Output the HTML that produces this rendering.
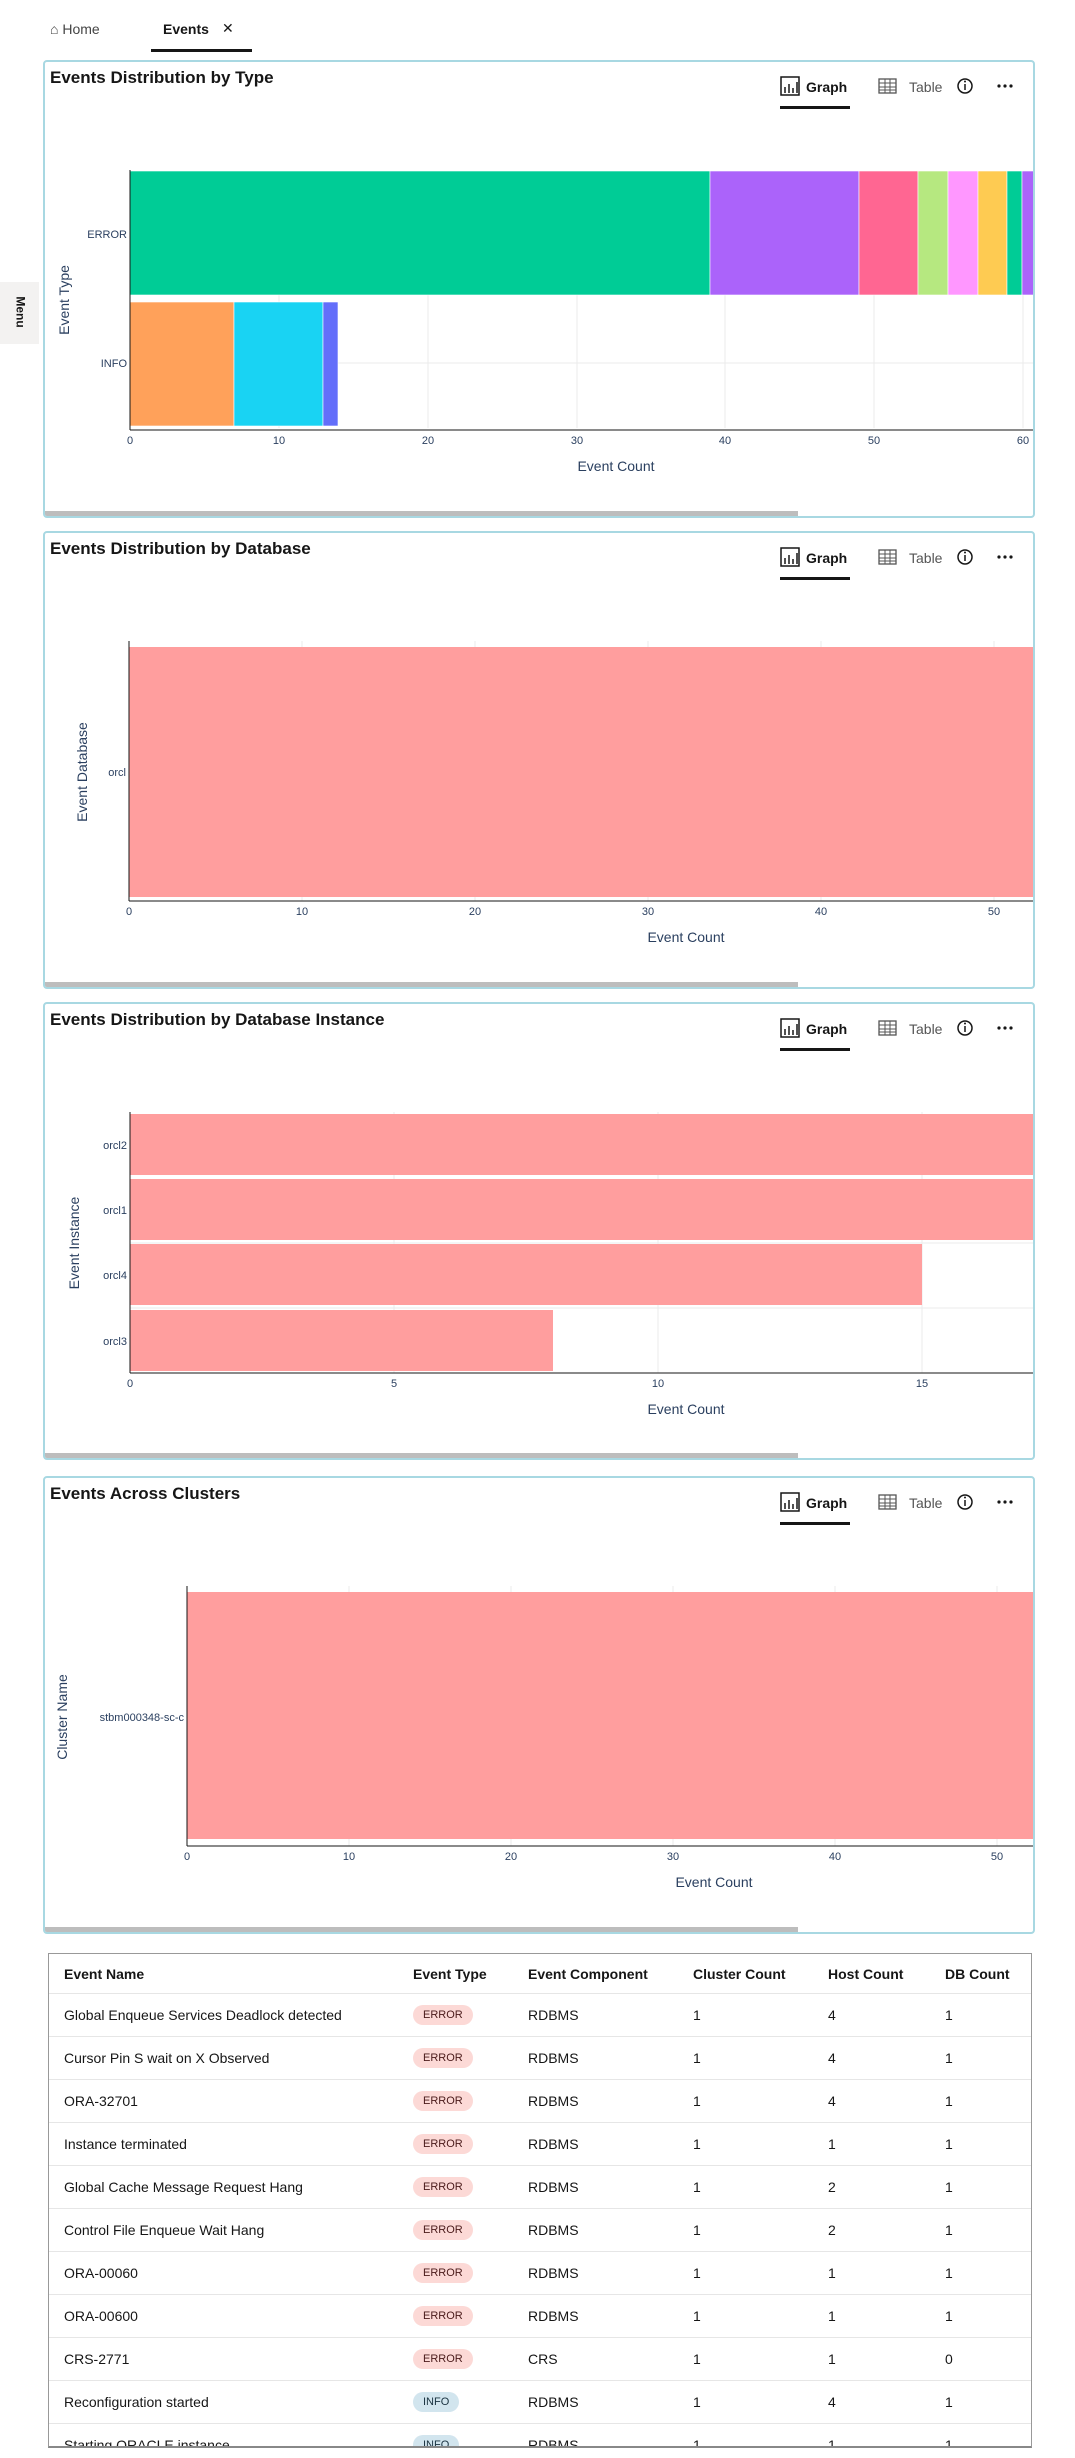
<!DOCTYPE html>
<html><head><meta charset="utf-8"><style>
body{margin:0;width:1075px;height:2458px;background:#fff;font-family:"Liberation Sans",sans-serif;position:relative;overflow:hidden}
.abs{position:absolute}
.card{position:absolute;left:43px;width:988px;height:454px;border:2px solid #a8d8e2;border-radius:4px;background:#fff;overflow:hidden}
.ttl{position:absolute;left:5px;top:6px;font-size:17px;font-weight:bold;color:#161616}
.sb{position:absolute;left:0;bottom:0;width:753px;height:5px;background:#bdbdbd}
svg text{font-family:"Liberation Sans",sans-serif}
table{border-collapse:collapse;width:100%;font-size:14px;color:#161616}
td,th{text-align:left;height:42px;border-bottom:1px solid #e6e6e6;padding:0;font-weight:normal}
th{font-weight:bold;height:39px}
.b{display:inline-block;font-size:11px;padding:4px 10px;border-radius:11px;background:#fcd9d6;color:#4a1a1a}
.i{background:#d2e5ee;color:#1a3340}
.card svg{position:absolute;left:-2px;top:-2px}
</style></head><body>

<div class="abs" style="left:50px;top:21px;font-size:14px;color:#444">&#8962; Home</div>
<div class="abs" style="left:163px;top:21px;font-size:14px;color:#161616;font-weight:bold">Events</div>
<div class="abs" style="left:222px;top:20px;font-size:14px;color:#161616">✕</div>
<div class="abs" style="left:151px;top:49px;width:101px;height:3px;background:#161616"></div>

<div class="abs" style="left:0;top:282px;width:39px;height:62px;background:#f3f2f1"><div style="position:absolute;left:5px;top:23px;transform:rotate(90deg);font-size:12px;font-weight:bold;color:#161616">Menu</div></div>

<div class="card" style="top:60px">
<div class="ttl">Events Distribution by Type</div>
<svg width="992" height="458">
<g id="hdr">
<rect x="738" y="17" width="18" height="18" fill="none" stroke="#161616" stroke-width="1.5"/><path d="M742 33v-6M746 33v-9M750 33v-5M754 33v-11" stroke="#161616" stroke-width="1.5"/>
<text x="763" y="32" font-size="14" font-weight="bold" fill="#161616">Graph</text>
<rect x="737" y="46" width="70" height="3" fill="#161616"/>
<rect x="836" y="19" width="17" height="14" fill="none" stroke="#555" stroke-width="1.3"/><path d="M836 23h17M836 27h17M836 30h17M842 19v14M847 19v14" stroke="#555" stroke-width="1"/>
<text x="866" y="32" font-size="14" fill="#555">Table</text>
<circle cx="922" cy="26" r="7" fill="none" stroke="#161616" stroke-width="1.5"/><path d="M922 24v6" stroke="#161616" stroke-width="1.5"/><circle cx="922" cy="21.5" r="1" fill="#161616"/>
<circle cx="956" cy="26" r="1.6" fill="#161616"/><circle cx="962" cy="26" r="1.6" fill="#161616"/><circle cx="968" cy="26" r="1.6" fill="#161616"/>
</g>
<g stroke="#ebebeb"><line x1="236" y1="111" x2="236" y2="368"/><line x1="385" y1="111" x2="385" y2="368"/><line x1="534" y1="111" x2="534" y2="368"/><line x1="682" y1="111" x2="682" y2="368"/><line x1="831" y1="111" x2="831" y2="368"/><line x1="980" y1="111" x2="980" y2="368"/><line x1="87" y1="174" x2="990" y2="174"/><line x1="87" y1="303" x2="990" y2="303"/></g>
<g stroke="#fff" stroke-width="0.6">
<rect x="87" y="111" width="580" height="124" fill="#00cc96"/>
<rect x="667" y="111" width="149" height="124" fill="#ab63fa"/>
<rect x="816" y="111" width="59" height="124" fill="#ff6692"/>
<rect x="875" y="111" width="30" height="124" fill="#b6e880"/>
<rect x="905" y="111" width="30" height="124" fill="#ff97ff"/>
<rect x="935" y="111" width="29" height="124" fill="#fecb52"/>
<rect x="964" y="111" width="15" height="124" fill="#00cc96"/>
<rect x="979" y="111" width="15" height="124" fill="#ab63fa"/>
<rect x="87" y="242" width="104" height="124" fill="#ffa15a"/>
<rect x="191" y="242" width="89" height="124" fill="#19d3f3"/>
<rect x="280" y="242" width="15" height="124" fill="#636efa"/>
</g>
<line x1="87" y1="110" x2="87" y2="370" stroke="#161616"/><line x1="87" y1="370" x2="990" y2="370" stroke="#161616"/>
<g font-size="11" fill="#2a3f5f" text-anchor="middle"><text x="87" y="384">0</text><text x="236" y="384">10</text><text x="385" y="384">20</text><text x="534" y="384">30</text><text x="682" y="384">40</text><text x="831" y="384">50</text><text x="980" y="384">60</text></g>
<g font-size="11" fill="#2a3f5f" text-anchor="end"><text x="84" y="178">ERROR</text><text x="84" y="307">INFO</text></g>
<text x="573" y="411" font-size="14" fill="#2a3f5f" text-anchor="middle">Event Count</text>
<text transform="translate(26,240) rotate(-90)" font-size="14" fill="#2a3f5f" text-anchor="middle">Event Type</text>
</svg><div class="sb"></div></div>

<div class="card" style="top:531px">
<div class="ttl">Events Distribution by Database</div>
<svg width="992" height="458">
<use href="#hdr"/>
<g stroke="#ebebeb"><line x1="259" y1="110" x2="259" y2="370"/><line x1="432" y1="110" x2="432" y2="370"/><line x1="605" y1="110" x2="605" y2="370"/><line x1="778" y1="110" x2="778" y2="370"/><line x1="951" y1="110" x2="951" y2="370"/></g>
<rect x="86" y="116" width="904" height="250" fill="#ff9e9e"/>
<line x1="86" y1="110" x2="86" y2="370" stroke="#161616"/><line x1="86" y1="370" x2="990" y2="370" stroke="#161616"/>
<g font-size="11" fill="#2a3f5f" text-anchor="middle"><text x="86" y="384">0</text><text x="259" y="384">10</text><text x="432" y="384">20</text><text x="605" y="384">30</text><text x="778" y="384">40</text><text x="951" y="384">50</text></g>
<text x="83" y="245" font-size="11" fill="#2a3f5f" text-anchor="end">orcl</text>
<text x="643" y="411" font-size="14" fill="#2a3f5f" text-anchor="middle">Event Count</text>
<text transform="translate(44,241) rotate(-90)" font-size="14" fill="#2a3f5f" text-anchor="middle">Event Database</text>
</svg><div class="sb"></div></div>

<div class="card" style="top:1002px">
<div class="ttl">Events Distribution by Database Instance</div>
<svg width="992" height="458">
<use href="#hdr"/>
<g stroke="#ebebeb"><line x1="351" y1="110" x2="351" y2="371"/><line x1="615" y1="110" x2="615" y2="371"/><line x1="879" y1="110" x2="879" y2="371"/><line x1="87" y1="241" x2="990" y2="241"/><line x1="87" y1="306" x2="990" y2="306"/></g>
<g fill="#ff9e9e"><rect x="87" y="112" width="903" height="61"/><rect x="87" y="177" width="903" height="61"/><rect x="87" y="242" width="792" height="61"/><rect x="87" y="308" width="423" height="61"/></g>
<line x1="87" y1="110" x2="87" y2="371" stroke="#161616"/><line x1="87" y1="371" x2="990" y2="371" stroke="#161616"/>
<g font-size="11" fill="#2a3f5f" text-anchor="middle"><text x="87" y="385">0</text><text x="351" y="385">5</text><text x="615" y="385">10</text><text x="879" y="385">15</text></g>
<g font-size="11" fill="#2a3f5f" text-anchor="end"><text x="84" y="147">orcl2</text><text x="84" y="212">orcl1</text><text x="84" y="277">orcl4</text><text x="84" y="343">orcl3</text></g>
<text x="643" y="412" font-size="14" fill="#2a3f5f" text-anchor="middle">Event Count</text>
<text transform="translate(36,241) rotate(-90)" font-size="14" fill="#2a3f5f" text-anchor="middle">Event Instance</text>
</svg><div class="sb"></div></div>

<div class="card" style="top:1476px">
<div class="ttl">Events Across Clusters</div>
<svg width="992" height="458">
<use href="#hdr"/>
<g stroke="#ebebeb"><line x1="306" y1="110" x2="306" y2="370"/><line x1="468" y1="110" x2="468" y2="370"/><line x1="630" y1="110" x2="630" y2="370"/><line x1="792" y1="110" x2="792" y2="370"/><line x1="954" y1="110" x2="954" y2="370"/></g>
<rect x="144" y="116" width="846" height="247" fill="#ff9e9e"/>
<line x1="144" y1="110" x2="144" y2="370" stroke="#161616"/><line x1="144" y1="370" x2="990" y2="370" stroke="#161616"/>
<g font-size="11" fill="#2a3f5f" text-anchor="middle"><text x="144" y="384">0</text><text x="306" y="384">10</text><text x="468" y="384">20</text><text x="630" y="384">30</text><text x="792" y="384">40</text><text x="954" y="384">50</text></g>
<text x="141" y="245" font-size="11" fill="#2a3f5f" text-anchor="end">stbm000348-sc-c</text>
<text x="671" y="411" font-size="14" fill="#2a3f5f" text-anchor="middle">Event Count</text>
<text transform="translate(24,241) rotate(-90)" font-size="14" fill="#2a3f5f" text-anchor="middle">Cluster Name</text>
</svg><div class="sb"></div></div>

<div class="abs" style="left:48px;top:1953px;width:982px;height:492px;border:1px solid #999;border-bottom:2px solid #888;overflow:hidden">
<table>
<colgroup><col style="width:364px"><col style="width:115px"><col style="width:165px"><col style="width:135px"><col style="width:117px"><col></colgroup>
<tr><th style="padding-left:15px">Event Name</th><th>Event Type</th><th>Event Component</th><th>Cluster Count</th><th>Host Count</th><th>DB Count</th></tr>
<tr><td style="padding-left:15px">Global Enqueue Services Deadlock detected</td><td><span class="b">ERROR</span></td><td>RDBMS</td><td>1</td><td>4</td><td>1</td></tr>
<tr><td style="padding-left:15px">Cursor Pin S wait on X Observed</td><td><span class="b">ERROR</span></td><td>RDBMS</td><td>1</td><td>4</td><td>1</td></tr>
<tr><td style="padding-left:15px">ORA-32701</td><td><span class="b">ERROR</span></td><td>RDBMS</td><td>1</td><td>4</td><td>1</td></tr>
<tr><td style="padding-left:15px">Instance terminated</td><td><span class="b">ERROR</span></td><td>RDBMS</td><td>1</td><td>1</td><td>1</td></tr>
<tr><td style="padding-left:15px">Global Cache Message Request Hang</td><td><span class="b">ERROR</span></td><td>RDBMS</td><td>1</td><td>2</td><td>1</td></tr>
<tr><td style="padding-left:15px">Control File Enqueue Wait Hang</td><td><span class="b">ERROR</span></td><td>RDBMS</td><td>1</td><td>2</td><td>1</td></tr>
<tr><td style="padding-left:15px">ORA-00060</td><td><span class="b">ERROR</span></td><td>RDBMS</td><td>1</td><td>1</td><td>1</td></tr>
<tr><td style="padding-left:15px">ORA-00600</td><td><span class="b">ERROR</span></td><td>RDBMS</td><td>1</td><td>1</td><td>1</td></tr>
<tr><td style="padding-left:15px">CRS-2771</td><td><span class="b">ERROR</span></td><td>CRS</td><td>1</td><td>1</td><td>0</td></tr>
<tr><td style="padding-left:15px">Reconfiguration started</td><td><span class="b i">INFO</span></td><td>RDBMS</td><td>1</td><td>4</td><td>1</td></tr>
<tr><td style="padding-left:15px">Starting ORACLE instance</td><td><span class="b i">INFO</span></td><td>RDBMS</td><td>1</td><td>1</td><td>1</td></tr>
</table></div>
</body></html>
